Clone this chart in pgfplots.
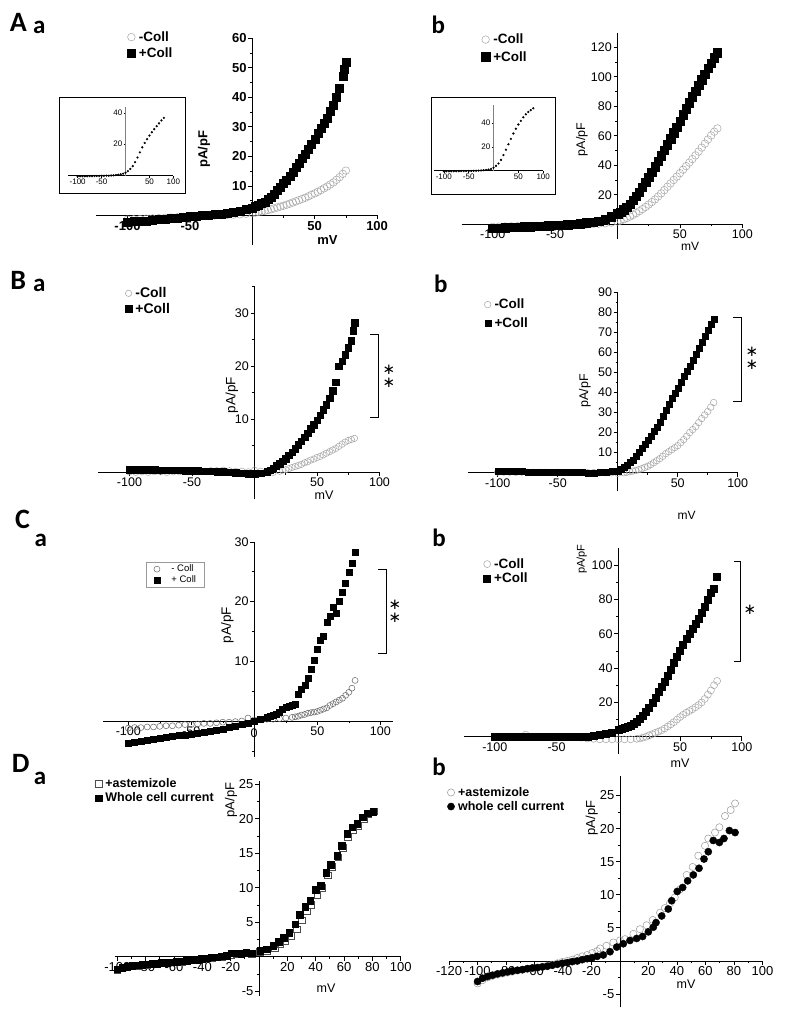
\documentclass[border=0pt]{standalone}
\usepackage{pgfplots}
\pgfplotsset{compat=1.18}
\usepackage{fontspec}
\setmainfont{Liberation Sans}
\newfontfamily\carlito{Carlito}
\newfontfamily\djv{DejaVu Sans}

\pgfplotsset{
 iv/.style={scale only axis, axis lines=middle, clip=false, enlargelimits=false,
  axis line style={-, line width=0.9pt, black},
  tick align=outside, major tick length=4pt, minor tick length=2.2pt,
  tick style={black, line width=0.8pt},
  tick label style={font=\fontsize{12.5}{12.5}\selectfont, inner sep=1.5pt},
  legend cell align=left,
  legend image code/.code={\draw[##1] plot coordinates {(0pt,0pt)};},
  legend style={draw=none, fill=none, inner sep=0pt, column sep=3pt, nodes={inner sep=0.5pt}, anchor=north west, font=\bfseries\fontsize{13.5}{13.5}\selectfont},
 },
 inset/.style={scale only axis, axis lines=middle, clip=false, enlargelimits=false,
  axis line style={-, line width=0.5pt, black},
  y axis line style={line width=0.4pt, gray},
  tick align=outside, major tick length=2pt,
  tick style={black, line width=0.4pt},
  tick label style={font=\fontsize{8}{8}\selectfont, inner sep=1pt},
  xtick={-100,-50,50,100}, xticklabels={-100,-50,50,100},
  xmin=-120, xmax=100, ymin=0,
 },
 sq/.style={only marks, mark=square*, mark size=#1, mark options={fill=black, draw=black, solid}},
 oc/.style={only marks, mark=o, mark size=#1, mark options={draw=gray!70, line width=0.5pt, solid}},
 dots/.style={only marks, mark=*, mark size=0.9pt, mark options={fill=black, draw=black}},
}
\tikzset{stars/.style={font=\djv\fontsize{15}{13}\selectfont, align=center, inner sep=0pt}}

\begin{document}
\begin{tikzpicture}
\fill[white] (0pt,0pt) rectangle (787pt,-1020pt);
\path[use as bounding box] (0pt,0pt) rectangle (787pt,-1020pt);

% ---------------- A a ----------------
\begin{axis}[iv, at={(96.3pt,-245pt)}, anchor=south west, width=280.8pt, height=206.7pt,
 xmin=-125, xmax=100, ymin=-10, ymax=60,
 xtick={-100,-50,50,100}, xticklabels={-100,-50,50,100}, minor xtick={-75,-25,25,75},
 ytick={10,20,30,40,50,60}, yticklabels={10,20,30,40,50,60}, minor ytick={5,15,25,35,45,55},
 tick label style={font=\bfseries\fontsize{13}{13}\selectfont},
 legend style={at={(0.110,1.0365)}, row sep=4pt}]
\addplot[oc=3.8pt] coordinates {(-100,-1.4) (-95,-1.3) (-90,-1.2) (-85,-1.1) (-80,-1.0) (-75,-0.9) (-70,-0.8) (-65,-0.7) (-60,-0.6) (-55,-0.5) (-50,-0.4) (-45,-0.3) (-40,-0.2) (-35,-0.1) (-30,0.0) (-25,0.1) (-20,0.2) (-15,0.3) (-10,0.4) (-5,0.6) (0,0.8) (2.5,1.0) (5,1.2) (7.5,1.4) (10,1.6) (12.5,1.85) (15,2.1) (17.5,2.4) (20,2.7) (22.5,3.0) (25,3.3) (27.5,3.65) (30,4.0) (32.5,4.4) (35,4.8) (37.5,5.2) (40,5.6) (42.5,6.0) (45,6.5) (47.5,7.0) (50,7.5) (52.5,8.0) (55,8.6) (57.5,9.2) (60,9.8) (62.5,10.5) (65,11.2) (67.5,12.1) (70,13.0) (72.5,14.1) (75,15.2)};
\addplot[sq=4pt] coordinates {(-100,-2.3) (-95,-2.1) (-90,-2.0) (-85,-1.8) (-80,-1.6) (-75,-1.4) (-70,-1.2) (-65,-1.0) (-60,-0.8) (-55,-0.6) (-50,-0.4) (-45,-0.2) (-40,0.0) (-35,0.2) (-30,0.4) (-25,0.6) (-20,0.9) (-15,1.2) (-10,1.6) (-5,2.0) (0,2.6) (2.5,3.1) (5,3.6) (7.5,4.1) (10,4.6) (12.5,5.4) (15,6.2) (17.5,7.3) (20,8.4) (22.5,9.5) (25,10.8) (27.5,12.0) (30,13.3) (32.5,14.7) (35,16.2) (37.5,17.8) (40,19.4) (42.5,20.9) (45,22.5) (47.5,24.2) (50,26.0) (52.5,27.7) (55,29.5) (57.5,31.2) (60,33.0) (62.5,35.2) (65,37.5) (67.5,40.2) (70,43.0) (72.5,47.0) (73.75,49.5) (75,52.0)};
\legend{-Coll,+Coll}
\end{axis}
\draw[line width=0.9pt] (59pt,-97pt) rectangle (185pt,-193pt);
\begin{axis}[inset, at={(68.1pt,-175.5pt)}, anchor=south west, width=105.3pt, height=68.9pt,
 ymax=44, ytick={20,40}, yticklabels={20,40}]
\addplot[dots] coordinates {(-100,-0.5) (-95,-0.5) (-90,-0.5) (-85,-0.5) (-80,-0.4) (-75,-0.4) (-70,-0.4) (-65,-0.3) (-60,-0.3) (-55,-0.3) (-50,-0.2) (-45,-0.2) (-40,-0.1) (-35,-0.1) (-30,0) (-25,0.1) (-20,0.3) (-15,0.5) (-10,0.8) (-5,1.2) (0,1.8) (5,2.8) (10,4.2) (15,6.0) (20,8.5) (25,11.5) (30,14.8) (35,18.0) (40,20.8) (45,23.2) (50,25.5) (55,27.6) (60,29.6) (65,31.5) (70,33.3) (75,35.2) (80,36.8)};
\end{axis}

% ---------------- A b ----------------
\begin{axis}[iv, at={(461.5pt,-238.9pt)}, anchor=south west, width=280.8pt, height=206.2pt,
 xmin=-125, xmax=100, ymin=-10, ymax=130,
 xtick={-100,-50,50,100}, xticklabels={-100,-50,50,100}, minor xtick={-75,-25,25,75},
 ytick={20,40,60,80,100,120}, yticklabels={20,40,60,80,100,120}, minor ytick={10,30,50,70,90,110},
 legend style={at={(0.0702,0.9973)}, row sep=5pt}]
\addplot[oc=3.8pt] coordinates {(-100,-1.8) (-95,-1.7) (-90,-1.6) (-85,-1.5) (-80,-1.4) (-75,-1.3) (-70,-1.2) (-65,-1.1) (-60,-1.0) (-55,-0.9) (-50,-0.8) (-45,-0.7) (-40,-0.6) (-35,-0.5) (-30,-0.4) (-25,-0.2) (-20,0.0) (-15,0.3) (-10,0.6) (-5,1.1) (0,1.8) (2.5,2.5) (5,3.3) (7.5,4.2) (10,5.2) (12.5,6.3) (15,7.5) (17.5,8.8) (20,10.2) (22.5,11.7) (25,13.3) (27.5,15.0) (30,16.8) (32.5,18.8) (35,20.9) (37.5,23.1) (40,25.4) (42.5,27.7) (45,30.0) (47.5,32.3) (50,34.6) (52.5,37.0) (55,39.4) (57.5,41.8) (60,44.2) (62.5,46.7) (65,49.3) (67.5,52.0) (70,54.7) (72.5,57.5) (75,60.2) (77.5,62.8) (80,65.0)};
\addplot[sq=4.2pt] coordinates {(-100,-2.8) (-95,-2.6) (-90,-2.4) (-85,-2.2) (-80,-2.0) (-75,-1.8) (-70,-1.6) (-65,-1.4) (-60,-1.2) (-55,-1.0) (-50,-0.8) (-45,-0.6) (-40,-0.3) (-35,0.0) (-30,0.4) (-25,0.9) (-20,1.5) (-15,2.2) (-10,3.4) (-5,5.0) (0,7.0) (2.5,8.3) (5,9.8) (7.5,11.6) (10,13.7) (12.5,16.2) (15,18.9) (17.5,21.8) (20,25.0) (22.5,28.3) (25,31.8) (27.5,35.3) (30,39.0) (32.5,42.7) (35,46.5) (37.5,50.2) (40,54.0) (42.5,58.0) (45,62.0) (47.5,66.0) (50,70.0) (52.5,74.2) (55,78.3) (57.5,82.4) (60,86.5) (62.5,90.4) (65,94.3) (67.5,98.2) (70,102.0) (72.5,105.7) (75,109.3) (77.5,113.0) (80,116.5)};
\legend{-Coll,+Coll}
\end{axis}
\draw[line width=0.9pt] (431pt,-97pt) rectangle (555.7pt,-194.3pt);
\begin{axis}[inset, at={(433.9pt,-170.7pt)}, anchor=south west, width=109.3pt, height=66pt,
 ymax=55, ytick={20,40}, yticklabels={20,40}]
\addplot[dots] coordinates {(-100,-0.5) (-95,-0.5) (-90,-0.5) (-85,-0.5) (-80,-0.4) (-75,-0.4) (-70,-0.4) (-65,-0.3) (-60,-0.3) (-55,-0.3) (-50,-0.2) (-45,-0.2) (-40,-0.1) (-35,0) (-30,0.1) (-25,0.2) (-20,0.4) (-15,0.6) (-10,0.9) (-5,1.5) (0,2.5) (5,4.0) (10,6.0) (15,9.0) (20,13.0) (25,17.5) (30,22.0) (35,26.5) (40,31.0) (45,35.0) (50,38.5) (55,41.5) (60,44.5) (65,47.0) (70,49.0) (75,50.5) (80,52.0)};
\end{axis}

% ---------------- B a ----------------
\begin{axis}[iv, at={(98.25pt,-498.8pt)}, anchor=south west, width=281.25pt, height=212pt,
 xmin=-125, xmax=100, ymin=-5, ymax=35,
 xtick={-100,-50,50,100}, xticklabels={-100,-50,50,100}, minor xtick={-75,-25,25,75},
 ytick={10,20,30}, yticklabels={10,20,30}, minor ytick={5,15,25,35},
 legend style={at={(0.0955,1.0)}, row sep=3pt, font=\bfseries\fontsize{14}{14}\selectfont}]
\addplot[oc=3.2pt] coordinates {(-100,0.1) (-95,0.0) (-90,0.1) (-85,0.0) (-80,0.1) (-75,0.1) (-70,0.0) (-65,0.1) (-60,0.1) (-55,0.2) (-50,0.1) (-45,0.2) (-40,0.2) (-35,0.3) (-30,0.3) (-25,0.4) (-20,0.3) (-15,0.2) (-10,0.2) (-5,0.1) (0,0.4) (5,0.2) (10,0.0) (15,0.0) (20,0.2) (22.5,0.4) (25,0.5) (27.5,0.7) (30,0.9) (32.5,1.1) (35,1.3) (37.5,1.5) (40,1.8) (42.5,2.0) (45,2.3) (47.5,2.5) (50,2.8) (52.5,3.0) (55,3.3) (57.5,3.6) (60,3.9) (62.5,4.2) (65,4.5) (67.5,4.9) (70,5.3) (72.5,5.7) (75,6.0) (77.5,6.2) (80,6.4)};
\addplot[sq=3.3pt] coordinates {(-100,0.5) (-95,0.5) (-90,0.5) (-85,0.5) (-80,0.5) (-75,0.4) (-70,0.4) (-65,0.4) (-60,0.4) (-55,0.3) (-50,0.3) (-45,0.3) (-40,0.2) (-35,0.2) (-30,0.1) (-25,0.1) (-20,0.0) (-15,-0.1) (-10,-0.2) (-5,-0.3) (0,-0.3) (5,-0.2) (10,0.1) (12.5,0.4) (15,0.8) (17.5,1.2) (20,1.6) (22.5,2.1) (25,2.6) (27.5,3.2) (30,3.8) (32.5,4.5) (35,5.2) (37.5,5.9) (40,6.6) (42.5,7.4) (45,8.2) (47.5,9.0) (50,9.8) (52.5,10.8) (55,11.8) (57.5,12.8) (60,14.0) (62.5,15.4) (65,17.0) (67.5,20.0) (70,21.0) (72.5,22.2) (75,23.5) (77.5,24.8) (79,26.7) (80,28.2)};
\legend{-Coll,+Coll}
\end{axis}

% ---------------- B b ----------------
\begin{axis}[iv, at={(467.7pt,-490.75pt)}, anchor=south west, width=270pt, height=198.5pt,
 xmin=-125, xmax=100, ymin=-9, ymax=90,
 xtick={-100,-50,50,100}, xticklabels={-100,-50,50,100}, minor xtick={-75,-25,25,75},
 ytick={10,20,30,40,50,60,70,80,90}, yticklabels={10,20,30,40,50,60,70,80,90}, minor ytick={5,15,25,35,45,55,65,75,85},
 legend style={at={(0.0611,0.9698)}, row sep=6.5pt}]
\addplot[oc=3.3pt] coordinates {(-100,0.3) (-95,0.3) (-90,0.3) (-85,0.2) (-80,0.3) (-75,0.2) (-70,0.2) (-65,0.2) (-60,0.2) (-55,0.1) (-50,0.2) (-45,0.1) (-40,0.1) (-35,0.1) (-30,0.1) (-25,0.0) (-20,0.1) (-15,0.0) (-10,0.0) (-5,0.0) (0,-0.3) (5,0.0) (7.5,0.2) (10,0.5) (12.5,0.8) (15,1.1) (17.5,1.5) (20,2.0) (22.5,2.6) (25,3.2) (27.5,4.0) (30,5.0) (32.5,6.0) (35,7.0) (37.5,8.2) (40,9.5) (42.5,10.5) (45,11.5) (47.5,12.5) (50,13.5) (52.5,15.0) (55,16.5) (57.5,18.2) (60,20.0) (62.5,21.5) (65,23.0) (67.5,25.0) (70,27.0) (72.5,28.8) (75,30.5) (77.5,32.7) (80,35.0)};
\addplot[sq=3pt] coordinates {(-100,0.8) (-95,0.7) (-90,0.7) (-85,0.6) (-80,0.6) (-75,0.5) (-70,0.5) (-65,0.4) (-60,0.4) (-55,0.3) (-50,0.3) (-45,0.2) (-40,0.2) (-35,0.1) (-30,0.1) (-25,0.0) (-20,0.0) (-15,0.1) (-10,0.3) (-5,0.6) (0,1.0) (2.5,1.7) (5,2.5) (7.5,3.7) (10,5.0) (12.5,6.4) (15,8.0) (17.5,10.0) (20,12.0) (22.5,14.0) (25,16.0) (27.5,18.0) (30,20.5) (32.5,22.8) (35,25.2) (37.5,28.0) (40,31.0) (42.5,34.0) (45,37.0) (47.5,39.5) (50,42.0) (52.5,45.0) (55,48.0) (57.5,50.5) (60,53.0) (62.5,56.0) (65,59.0) (67.5,62.0) (70,65.0) (72.5,68.0) (75,71.0) (77.5,74.0) (80,76.5)};
\legend{-Coll,+Coll}
\end{axis}

% ---------------- C a ----------------
\begin{axis}[iv, at={(103.1pt,-756.8pt)}, anchor=south west, width=289.8pt, height=214.9pt,
 xmin=-120, xmax=110, ymin=-6, ymax=30,
 axis line style={line width=0.7pt}, tick style={line width=0.6pt},
 xtick={-100,-50,0,50,100}, xticklabels={-100,-50,0,50,100}, minor xtick={-75,-25,25,75},
 ytick={10,20,30}, yticklabels={10,20,30}, minor ytick={-5,5,15,25},
 legend style={at={(0.147,0.9079)}, draw=gray!80, line width=0.5pt, inner xsep=8pt, inner ysep=2.5pt, row sep=1.5pt, column sep=11pt, font=\fontsize{9.5}{9.5}\selectfont}]
\addplot[only marks, mark=o, mark size=3pt, mark options={draw=black!60, line width=0.5pt}] coordinates {(-100,-1.2) (-95,-1.1) (-90,-1.1) (-85,-1.0) (-80,-1.0) (-75,-0.9) (-70,-0.8) (-65,-0.8) (-60,-0.7) (-55,-0.6) (-50,-0.6) (-45,-0.5) (-40,-0.4) (-35,-0.4) (-30,-0.3) (-25,-0.2) (-20,-0.2) (-15,-0.1) (-10,0.0) (-5,0.5) (0,0.2) (5,0.2) (10,0.3) (15,0.3) (20,0.4) (25,0.5) (30,0.6) (32.5,0.7) (35,0.8) (37.5,1.0) (40,1.1) (42.5,1.3) (45,1.4) (47.5,1.5) (50,1.6) (52.5,1.8) (55,2.0) (57.5,2.2) (60,2.6) (62.5,2.9) (65,3.2) (67.5,3.5) (70,3.8) (72.5,4.3) (75,4.8) (77.5,5.5) (80,6.8)};
\addplot[sq=3pt] coordinates {(-100,-3.7) (-95,-3.6) (-90,-3.4) (-85,-3.3) (-80,-3.1) (-75,-2.9) (-70,-2.7) (-65,-2.6) (-60,-2.4) (-55,-2.3) (-50,-2.2) (-45,-2.05) (-40,-1.9) (-35,-1.75) (-30,-1.6) (-25,-1.35) (-20,-1.1) (-15,-0.85) (-10,-0.6) (-5,-0.3) (0,0.0) (5,0.3) (10,0.6) (12.5,0.8) (15,1.0) (17.5,1.2) (20,1.5) (22.5,1.9) (25,2.3) (27.5,2.4) (30,2.6) (32.5,2.8) (35,4.5) (37.5,5.4) (40,6.0) (42.5,7.2) (45,8.6) (47.5,10.2) (50,12.0) (52.5,13.5) (55,14.2) (57.5,16.5) (60,17.5) (62.5,19.0) (65,18.0) (67.5,20.0) (70,21.5) (72.5,23.0) (75,25.0) (77.5,26.5) (80,28.2)};
\legend{- Coll,+ Coll}
\end{axis}
\node[font=\fontsize{12.5}{12.5}\selectfont] at (254pt,-733pt) {0};

% ---------------- C b ----------------
\begin{axis}[iv, at={(463.9pt,-753.9pt)}, anchor=south west, width=277.9pt, height=206pt,
 xmin=-125, xmax=100, ymin=-10, ymax=110,
 xtick={-100,-50,50,100}, xticklabels={-100,-50,50,100}, minor xtick={-75,-25,25,75},
 ytick={20,40,60,80,100}, yticklabels={20,40,60,80,100}, minor ytick={10,30,50,70,90},
 legend style={at={(0.0705,0.9522)}, row sep=2pt}]
\addplot[oc=3.5pt] coordinates {(-100,0.0) (-95,0.0) (-90,0.0) (-85,0.0) (-80,0.0) (-75,1.2) (-70,0.0) (-65,0.0) (-60,0.0) (-55,0.0) (-50,0.0) (-45,0.0) (-40,0.0) (-35,0.0) (-30,-0.5) (-25,-1.0) (-20,-1.2) (-15,-1.5) (-10,-1.5) (-5,-1.5) (0,-1.5) (5,-1.5) (10,-1.5) (15,-1.2) (17.5,-1.0) (20,-0.5) (22.5,0.0) (25,0.8) (27.5,1.5) (30,2.3) (32.5,3.0) (35,3.8) (37.5,4.8) (40,6.0) (42.5,7.2) (45,8.5) (47.5,10.0) (50,11.5) (52.5,12.8) (55,14.0) (57.5,15.0) (60,16.0) (62.5,17.2) (65,18.5) (67.5,20.0) (70,22.0) (72.5,24.5) (75,27.0) (77.5,30.0) (80,32.5)};
\addplot[sq=3.5pt] coordinates {(-100,0.0) (-95,0.0) (-90,0.0) (-85,0.0) (-80,0.0) (-75,0.0) (-70,0.0) (-65,0.0) (-60,0.0) (-55,0.0) (-50,0.0) (-45,0.0) (-40,0.0) (-35,0.0) (-30,0.0) (-25,0.3) (-20,0.5) (-15,1.0) (-10,1.5) (-5,2.5) (0,4.0) (2.5,4.5) (5,5.0) (7.5,5.8) (10,6.5) (12.5,7.7) (15,9.0) (17.5,10.7) (20,12.5) (22.5,14.7) (25,17.0) (27.5,20.0) (30,23.0) (32.5,26.0) (35,29.0) (37.5,32.2) (40,35.5) (42.5,39.2) (45,43.0) (47.5,46.5) (50,50.0) (52.5,53.5) (55,57.0) (57.5,60.0) (60,63.0) (62.5,66.0) (65,69.0) (67.5,72.5) (70,76.0) (72.5,80.0) (75,84.0) (77.5,86.5) (80,93.5)};
\legend{-Coll,+Coll}
\end{axis}

% ---------------- D a ----------------
\begin{axis}[iv, at={(114.5pt,-996pt)}, anchor=south west, width=286.2pt, height=215.3pt,
 xmin=-102, xmax=100, ymin=-5.7, ymax=25.5,
 xtick={-100,-80,-60,-40,-20,20,40,60,80,100}, xticklabels={-100,-80,-60,-40,-20,20,40,60,80,100},
 minor xtick={-90,-70,-50,-30,-10,10,30,50,70,90},
 ytick={-5,5,10,15,20,25}, yticklabels={-5,5,10,15,20,25}, minor ytick={-2.5,2.5,7.5,12.5,17.5,22.5},
 tick label style={font=\fontsize{13}{13}\selectfont},
 legend style={at={(-0.068,1.0149)}, row sep=3pt, font=\bfseries\fontsize{12.5}{12.5}\selectfont}]
\addplot[only marks, mark=square, mark size=3.3pt, mark options={draw=black!70, line width=0.5pt}] coordinates {(-100,-1.9) (-96.5,-1.7) (-93,-1.5) (-89.5,-1.4) (-86,-1.3) (-82.5,-1.25) (-79,-1.15) (-75.5,-1.1) (-72,-1.0) (-68.5,-0.95) (-65,-0.9) (-61.5,-0.8) (-58,-0.75) (-54.5,-0.7) (-51,-0.6) (-47.5,-0.5) (-44,-0.45) (-40.5,-0.35) (-37,-0.25) (-33.5,-0.15) (-30,-0.1) (-26.5,0.0) (-23,0.1) (-19.5,0.3) (-16,0.4) (-12.5,0.4) (-9,0.5) (-5.2,0.4) (0.7,0.7) (5.4,0.9) (11,1.3) (15,1.8) (18.6,2.3) (22.5,3.0) (26.5,4.0) (30,5.3) (33.6,6.6) (37,7.5) (41,9.0) (44.5,10.0) (48.3,11.8) (51.6,13.0) (56,14.4) (59.2,15.8) (62.8,17.3) (66.4,18.3) (70,19.0) (73.8,20.0) (77.2,20.7) (81,21.1)};
\addplot[sq=3.3pt] coordinates {(-100,-1.8) (-96.5,-1.6) (-93,-1.45) (-89.5,-1.35) (-86,-1.25) (-82.5,-1.2) (-79,-1.1) (-75.5,-1.05) (-72,-1.0) (-68.5,-0.9) (-65,-0.85) (-61.5,-0.8) (-58,-0.7) (-54.5,-0.65) (-51,-0.55) (-47.5,-0.5) (-44,-0.4) (-40.5,-0.3) (-37,-0.2) (-33.5,-0.1) (-30,-0.05) (-26.5,0.05) (-23,0.1) (-19.5,0.5) (-16,0.5) (-12.5,0.4) (-9,0.55) (-5.2,0.5) (0.7,0.9) (5.4,1.07) (10.1,1.6) (14.1,2.2) (17.6,2.75) (21.4,3.5) (25.4,4.7) (28.9,6.1) (32.5,7.25) (36,8.1) (40,9.7) (43.5,10.3) (47.3,12.2) (50.6,13.3) (55.3,14.6) (58.4,16.1) (62.3,17.8) (65.8,18.75) (69.4,19.3) (73.2,20.2) (76.7,20.8) (80.7,21.0)};
\legend{+astemizole,Whole cell current}
\end{axis}

% ---------------- D b ----------------
\begin{axis}[iv, at={(449.1pt,-1007.3pt)}, anchor=south west, width=313.3pt, height=231.7pt,
 xmin=-120, xmax=100, ymin=-7, ymax=28,
 xtick={-120,-100,-80,-60,-40,-20,20,40,60,80,100}, xticklabels={-120,-100,-80,-60,-40,-20,20,40,60,80,100},
 minor xtick={-110,-90,-70,-50,-30,-10,10,30,50,70,90},
 ytick={-5,5,10,15,20,25}, yticklabels={-5,5,10,15,20,25}, minor ytick={-2.5,2.5,7.5,12.5,17.5,22.5},
 tick label style={font=\fontsize{13}{13}\selectfont},
 legend style={at={(-0.006,0.953)}, row sep=2.5pt, font=\bfseries\fontsize{12.5}{12.5}\selectfont}]
\addplot[only marks, mark=o, mark size=3.6pt, mark options={draw=gray!80, line width=0.5pt}] coordinates {(-100,-3.4) (-96.5,-2.9) (-93,-2.5) (-89.5,-2.25) (-86,-2.05) (-82.5,-1.9) (-79,-1.75) (-75.5,-1.6) (-72,-1.45) (-68.5,-1.35) (-65,-1.2) (-61.5,-1.1) (-58,-1.0) (-54.5,-0.85) (-51,-0.7) (-47.5,-0.55) (-44,-0.35) (-40.5,-0.15) (-37,0.0) (-33.5,0.2) (-30,0.45) (-26.5,0.7) (-23,0.9) (-19.5,1.2) (-16,1.5) (-14,1.9) (-9.5,2.3) (-4.7,2.8) (0,3.1) (3.5,3.3) (9.4,4.1) (14.0,4.8) (18.7,5.4) (23.0,6.2) (28.1,7.3) (31.5,8.0) (35.1,8.7) (38.5,9.6) (42,10.8) (46.8,13.0) (51,14.2) (55,15.9) (59.7,17.4) (62,18.5) (66.7,19.4) (69.8,20.2) (73.7,21.9) (77.7,22.8) (80.8,23.8)};
\addplot[only marks, mark=*, mark size=3.6pt, mark options={fill=black, draw=black}] coordinates {(-100,-3.1) (-96.5,-2.6) (-93,-2.35) (-89.5,-2.15) (-86,-1.95) (-82.5,-1.8) (-79,-1.65) (-75.5,-1.5) (-72,-1.4) (-68.5,-1.3) (-65,-1.15) (-61.5,-1.05) (-58,-1.0) (-54.5,-0.9) (-51,-0.8) (-47.5,-0.65) (-44,-0.5) (-40.5,-0.35) (-37,-0.25) (-33.5,-0.1) (-30,0.0) (-26.5,0.2) (-23,0.35) (-19.5,0.5) (-16,0.7) (-11.7,0.9) (-7.0,1.4) (-2.3,2.1) (2.3,2.6) (7.0,3.1) (11.7,3.4) (15.9,3.7) (19.9,4.4) (23.4,5.1) (25.3,5.8) (29.3,6.8) (33.9,7.85) (36.3,9.1) (40.2,10.5) (44.0,11.1) (47.5,12.1) (51.5,13.0) (55.5,14.0) (59.0,15.4) (62.0,16.5) (65.5,18.2) (69.8,17.9) (73.0,18.5) (76.8,19.7) (80.8,19.4)};
\legend{+astemizole,whole cell current}
\end{axis}

% ---------------- axis titles ----------------
\node[rotate=90, font=\bfseries\fontsize{13}{13}\selectfont] at (204pt,-149pt) {pA/pF};
\node[font=\bfseries\fontsize{13}{13}\selectfont] at (327.5pt,-240pt) {mV};
\node[rotate=90, font=\fontsize{12.5}{12.5}\selectfont] at (582pt,-139.5pt) {pA/pF};
\node[font=\fontsize{12}{12}\selectfont] at (690pt,-246pt) {mV};
\node[rotate=90, font=\fontsize{13.5}{13.5}\selectfont] at (232pt,-395pt) {pA/pF};
\node[font=\fontsize{12.5}{12.5}\selectfont] at (324pt,-495pt) {mV};
\node[rotate=90, font=\fontsize{12.5}{12.5}\selectfont] at (585pt,-391pt) {pA/pF};
\node[font=\fontsize{12}{12}\selectfont] at (686.5pt,-515pt) {mV};
\node[rotate=90, font=\fontsize{13.5}{13.5}\selectfont] at (227.5pt,-625pt) {pA/pF};
\node[rotate=90, font=\fontsize{11}{11}\selectfont] at (581.7pt,-559pt) {pA/pF};
\node[font=\fontsize{12.5}{12.5}\selectfont] at (680pt,-763pt) {mV};
\node[rotate=90, font=\fontsize{13}{13}\selectfont] at (231pt,-800pt) {pA/pF};
\node[font=\fontsize{12.5}{12.5}\selectfont] at (326pt,-988pt) {mV};
\node[rotate=90, font=\fontsize{13}{13}\selectfont] at (591.7pt,-818pt) {pA/pF};
\node[font=\fontsize{12.5}{12.5}\selectfont] at (686pt,-984pt) {mV};

% ---------------- brackets and significance ----------------
\draw[line width=0.8pt] (370pt,-334pt) -- (378.3pt,-334pt) -- (378.3pt,-417.3pt) -- (370pt,-417.3pt);
\node[stars] at (389pt,-376pt) {∗\\∗};
\draw[line width=0.8pt] (733.3pt,-317.3pt) -- (741pt,-317.3pt) -- (741pt,-401.7pt) -- (733.3pt,-401.7pt);
\node[stars] at (752pt,-358pt) {∗\\∗};
\draw[line width=0.8pt] (378pt,-569pt) -- (386.7pt,-569pt) -- (386.7pt,-653.3pt) -- (378pt,-653.3pt);
\node[stars] at (395pt,-611pt) {∗\\∗};
\draw[line width=0.8pt] (734pt,-561.7pt) -- (740.7pt,-561.7pt) -- (740.7pt,-661.7pt) -- (734pt,-661.7pt);
\node[stars] at (750pt,-609.5pt) {∗};

% ---------------- panel letters ----------------
\node[font=\carlito\bfseries\fontsize{28}{28}\selectfont] at (18.3pt,-22.5pt) {A};
\node[font=\carlito\bfseries\fontsize{25}{25}\selectfont] at (39.2pt,-27.5pt) {a};
\node[font=\carlito\bfseries\fontsize{25}{25}\selectfont] at (438.3pt,-25pt) {b};
\node[font=\carlito\bfseries\fontsize{28}{28}\selectfont] at (18.3pt,-280pt) {B};
\node[font=\carlito\bfseries\fontsize{25}{25}\selectfont] at (39.2pt,-285.5pt) {a};
\node[font=\carlito\bfseries\fontsize{25}{25}\selectfont] at (440.8pt,-284pt) {b};
\node[font=\carlito\bfseries\fontsize{28}{28}\selectfont] at (22.5pt,-519pt) {C};
\node[font=\carlito\bfseries\fontsize{25}{25}\selectfont] at (40.8pt,-540.5pt) {a};
\node[font=\carlito\bfseries\fontsize{25}{25}\selectfont] at (439.2pt,-537.5pt) {b};
\node[font=\carlito\bfseries\fontsize{28}{28}\selectfont] at (20.8pt,-763pt) {D};
\node[font=\carlito\bfseries\fontsize{25}{25}\selectfont] at (40pt,-778pt) {a};
\node[font=\carlito\bfseries\fontsize{25}{25}\selectfont] at (439.2pt,-766.5pt) {b};
\end{tikzpicture}
\end{document}
